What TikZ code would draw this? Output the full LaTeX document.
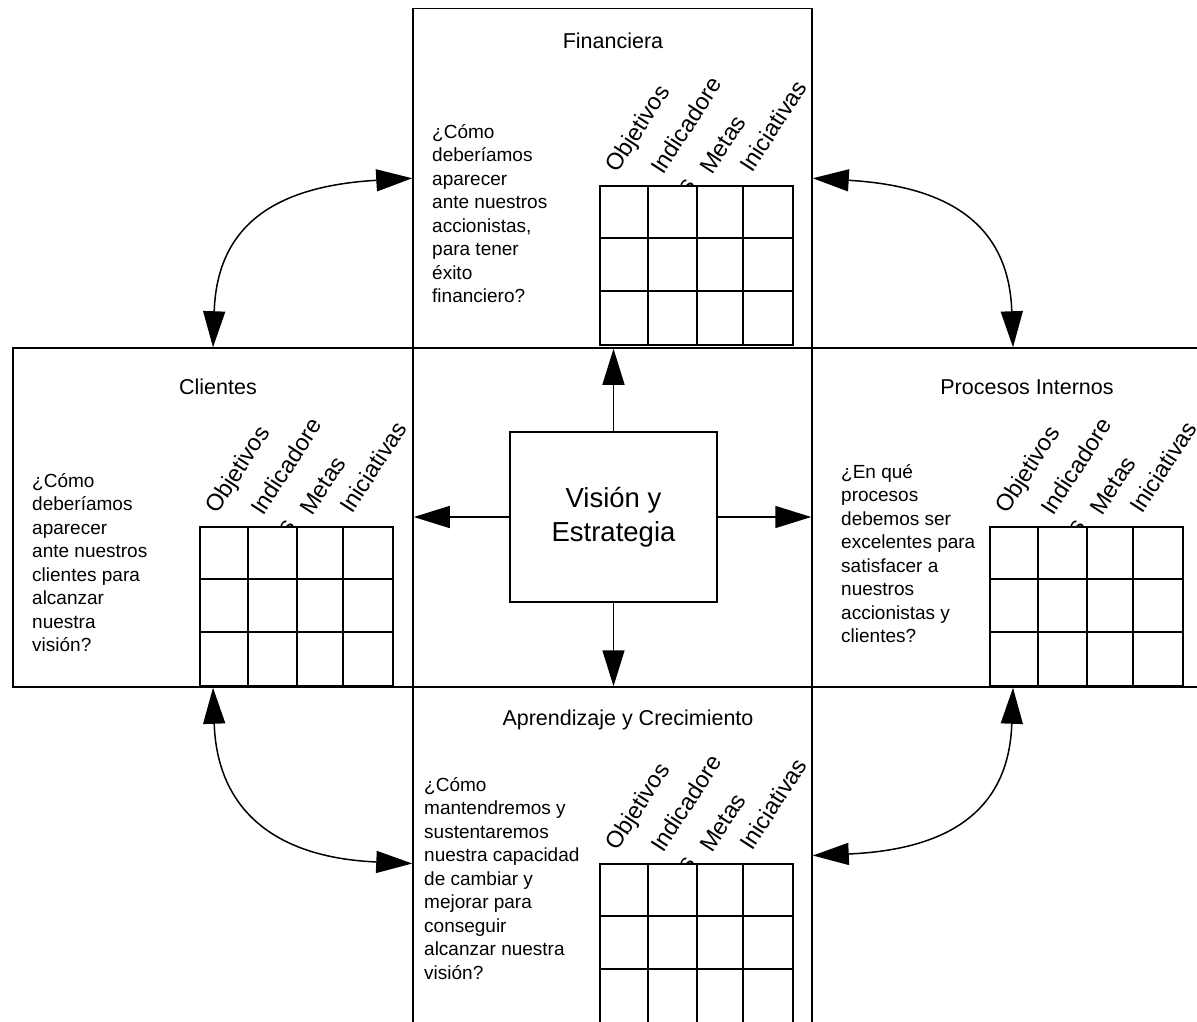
\documentclass[tikz,border=0pt]{standalone}
\usepackage{fontspec}
\setmainfont{Liberation Sans}
\usetikzlibrary{arrows.meta}
\tikzset{
  panel/.style={draw, line width=1.5pt, inner sep=0pt},
  gridbox/.style={draw, fill=white, line width=1.5pt, inner sep=0pt, minimum width=193pt, minimum height=159pt, anchor=north west},
  gridline/.style={line width=1.5pt},
  hdr/.style={font=\fontsize{23.5}{26}\selectfont, rotate=57, anchor=base west, inner sep=0pt},
  ttl/.style={font=\fontsize{21.5}{25}\selectfont, anchor=base, inner sep=0pt},
  body/.style={font=\fontsize{19}{23.5}\selectfont, align=left, anchor=north west, inner sep=0pt},
  link/.style={line width=1.5pt, {Triangle[length=36pt,width=22pt]}-{Triangle[length=36pt,width=22pt]}},
  ray/.style={line width=1.5pt, -{Triangle[length=36pt,width=22pt]}},
}
\newcommand\bscgrid[3]{%
  \node[hdr] (#1o) at (#2+18,#3-11) {Objetivos};
  \node[hdr] (#1i) at (#2+64,#3-9) {Indicadore};
  \node[hdr] (#1s) at (#2+90,#3+10) {s};
  \node[hdr] (#1m) at (#2+113,#3-9) {Metas};
  \node[hdr] (#1n) at (#2+153,#3-11) {Iniciativas};
  \node[gridbox] (#1g) at (#2,#3) {};
  \foreach \cx in {49,98,144}
    \draw[gridline] ([xshift=\cx pt]#1g.north west) -- ([xshift=\cx pt]#1g.south west);
  \foreach \ry in {53,106}
    \draw[gridline] ([yshift=-\ry pt]#1g.north west) -- ([yshift=-\ry pt]#1g.north east);
}
\begin{document}
\begin{tikzpicture}[x=1pt,y=-1pt]
  \useasboundingbox (0,0) rectangle (1197,1021);
  \clip (0,0) rectangle (1197,1021);
  % panels
  \node[panel, minimum width=399pt, minimum height=339.5pt] (fin) at (612.5,178.25) {};
  \node[panel, minimum width=400pt, minimum height=339pt] (cli) at (213,517.5) {};
  \node[panel, minimum width=402pt, minimum height=339pt] (pro) at (1013,517.5) {};
  \node[panel, minimum width=399pt, minimum height=353pt] (apr) at (612.5,863.5) {};
  % center
  \node[panel, minimum width=207pt, minimum height=170pt, align=center,
        font=\fontsize{27.5}{34}\selectfont] (vis) at (613.5,517) {Visión y\\Estrategia};
  % straight arrows
  \draw[ray] (vis.north) -- (vis.north |- fin.south);
  \draw[ray] (vis.south) -- (vis.south |- apr.north);
  \draw[ray] (vis.west) -- (vis.west -| cli.east);
  \draw[ray] (vis.east) -- (vis.east -| pro.west);
  % curved arrows
  \draw[link] (fin.west) .. controls +(-140,8) and +(4,-120) .. (cli.north);
  \draw[link] (fin.east) .. controls +(140,8) and +(-4,-120) .. (pro.north);
  \draw[link] (cli.south) .. controls +(4,120) and +(-140,-6) .. (apr.west);
  \draw[link] (pro.south) .. controls +(-4,120) and +(140,-6) .. ([yshift=8pt]apr.east);
  % titles
  \node[ttl] (tfin) at (613,48) {Financiera};
  \node[ttl] (tcli) at (218,394) {Clientes};
  \node[ttl] (tpro) at (1027,394) {Procesos Internos};
  \node[ttl] (tapr) at (628,725) {Aprendizaje y Crecimiento};
  % questions
  \node[body] (qfin) at (432,120) {\rule{0pt}{18pt}¿Cómo\\deberíamos\\aparecer\\ante nuestros\\accionistas,\\para tener\\éxito\\financiero?};
  \node[body] (qcli) at (32,469) {\rule{0pt}{18pt}¿Cómo\\deberíamos\\aparecer\\ante nuestros\\clientes para\\alcanzar\\nuestra\\visión?};
  \node[body] (qpro) at (841,460) {\rule{0pt}{18pt}¿En qué\\procesos\\debemos ser\\excelentes para\\satisfacer a\\nuestros\\accionistas y\\clientes?};
  \node[body] (qapr) at (424,773) {\rule{0pt}{18pt}¿Cómo\\mantendremos y\\sustentaremos\\nuestra capacidad\\de cambiar y\\mejorar para\\conseguir\\alcanzar nuestra\\visión?};
  % grids
  \bscgrid{f}{599}{185}
  \bscgrid{c}{199}{526}
  \bscgrid{p}{989}{526}
  \bscgrid{a}{599}{863}
\end{tikzpicture}
\end{document}
